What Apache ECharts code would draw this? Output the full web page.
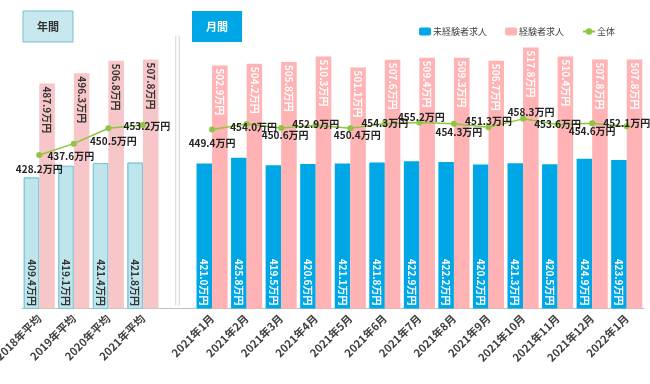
<!DOCTYPE html>
<html>
<head>
<meta charset="utf-8">
<script src="https://cdn.jsdelivr.net/npm/echarts@6/dist/echarts.min.js"></script>
<style>html,body{margin:0;padding:0;background:#fff}#c{width:650px;height:384px}</style>
</head>
<body>
<div id="c"></div>
<script>
const categories = ['2018年平均','2019年平均','2020年平均','2021年平均','',
  '2021年1月','2021年2月','2021年3月','2021年4月','2021年5月','2021年6月','2021年7月',
  '2021年8月','2021年9月','2021年10月','2021年11月','2021年12月','2022年1月'];
const inexperienced = [409.4,419.1,421.4,421.8,null,421.0,425.8,419.5,420.6,421.1,421.8,422.9,422.2,420.2,421.3,420.5,424.9,423.9];
const experienced = [487.9,496.3,506.8,507.8,null,502.9,504.2,505.8,510.3,501.1,507.6,509.4,509.3,506.7,517.8,510.4,507.8,507.8];
const overall = [428.2,437.6,450.5,453.2,null,449.4,454.0,450.6,452.9,450.4,454.3,455.2,454.3,451.3,458.3,453.6,454.6,452.1];
const seriesNames = ['未経験者求人','経験者求人','全体'];
const panelTitles = ['年間','月間'];
const unit = '万円';

// label offsets for the line labels (style only)
const lineLabelOffset = [[0,14],[-3,13],[5,13],[4,1],[0,0],
  [0,14],[7,3],[4,7],[0,-1],[7,7],[0,0],[2,-5],[5,9],[0,-6],[8,-7],[0,0],[0,8],[0,-3]];

const FONT = '"Noto Sans CJK JP", "Noto Sans", sans-serif';
const BLUE = '#00a7e6', PINK = '#ffb3b5', GREEN = '#8dc63f';
const A_BLUE = '#bfe5ec', A_BLUE_B = '#7fc8d8', A_PINK = '#f6c6c8';
const isAnnual = i => i < 4;
const fmt = v => v.toFixed(1) + unit;

const blueData = inexperienced.map((v, i) => v == null ? null : ({
  value: v,
  itemStyle: isAnnual(i) ? {color: A_BLUE, borderColor: A_BLUE_B, borderWidth: 1,
    decal: {symbol: 'none', dashArrayX: [1, 0], dashArrayY: [1, 2], rotation: -Math.PI/4, color: 'rgba(110,185,200,0.35)'}} : {color: BLUE},
  label: {color: isAnnual(i) ? '#333' : '#fff'}
}));
const pinkData = experienced.map((v, i) => v == null ? null : ({
  value: v,
  itemStyle: {color: isAnnual(i) ? A_PINK : PINK},
  label: {color: isAnnual(i) ? '#333' : '#fff'}
}));
const lineData = overall.map((v, i) => v == null ? null : ({
  value: v,
  label: {offset: lineLabelOffset[i]}
}));

const chart = echarts.init(document.getElementById('c'), null, {renderer: 'canvas'});
chart.setOption({
  animation: false,
  textStyle: {fontFamily: FONT},
  legend: {
    data: seriesNames, left: 414, top: 22, itemWidth: 12, itemHeight: 8, itemGap: 18,
    textStyle: {fontSize: 9, color: '#404040', fontFamily: FONT, padding: [0,0,0,-3]}
  },
  grid: {left: 22, right: 6, top: 9, bottom: 75.5, containLabel: false, outerBoundsMode: 'none'},
  xAxis: {
    type: 'category', data: categories,
    axisLine: {lineStyle: {color: '#bfbfbf'}},
    axisTick: {length: 4, lineStyle: {color: '#bfbfbf'}},
    axisLabel: {rotate: 45, interval: 0, fontSize: 11, fontWeight: 'bold', color: '#404040', margin: 8, fontFamily: FONT}
  },
  yAxis: {type: 'value', min: 300, max: 550, show: false, splitLine: {show: false}},
  graphic: [
    {type: 'rect', shape: {x: 23, y: 11, width: 50, height: 31}, style: {fill: '#c6e8ee', stroke: '#74bfd0', lineWidth: 1}},
    {type: 'text', x: 48, y: 27, style: {text: panelTitles[0], fill: '#333', font: 'bold 11px ' + FONT, textAlign: 'center', textVerticalAlign: 'middle'}},
    {type: 'rect', shape: {x: 192, y: 11, width: 50, height: 31}, style: {fill: BLUE}},
    {type: 'text', x: 217, y: 27, style: {text: panelTitles[1], fill: '#fff', font: 'bold 11px ' + FONT, textAlign: 'center', textVerticalAlign: 'middle'}}
  ],
  series: [
    {
      name: seriesNames[0], type: 'bar', data: blueData, barGap: '0%', barCategoryGap: '10%',
      itemStyle: {color: BLUE},
      label: {show: true, position: 'insideBottom', rotate: -90, align: 'right', verticalAlign: 'middle',
        distance: 3, fontSize: 10, fontWeight: 'bold', fontFamily: FONT, formatter: p => fmt(p.value)}
    },
    {
      name: seriesNames[1], type: 'bar', data: pinkData,
      itemStyle: {color: PINK},
      label: {show: true, position: 'insideTop', rotate: -90, align: 'left', verticalAlign: 'middle',
        distance: 3, fontSize: 10, fontWeight: 'bold', fontFamily: FONT, formatter: p => fmt(p.value)}
    },
    {
      name: seriesNames[2], type: 'line', data: lineData, connectNulls: false,
      symbol: 'circle', symbolSize: 6, itemStyle: {color: GREEN}, lineStyle: {color: GREEN, width: 1.5},
      label: {show: true, position: 'inside', fontSize: 10, fontWeight: 'bold', color: '#222', fontFamily: FONT,
        formatter: p => fmt(p.value)},
      z: 5,
      markLine: {
        silent: true, symbol: 'none', label: {show: false}, z: 1,
        data: [
          [{coord: [4, 527.6], lineStyle: {color: '#d4d4d4', width: 4.5, type: 'solid'}}, {coord: [4, 302.5]}],
          [{coord: [4, 527.6], lineStyle: {color: '#ffffff', width: 2.5, type: 'solid'}}, {coord: [4, 302.5]}]
        ]
      }
    }
  ]
});
</script>
</body>
</html>
